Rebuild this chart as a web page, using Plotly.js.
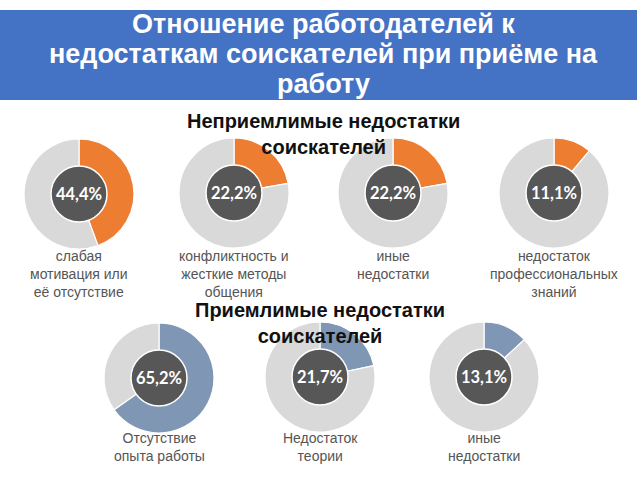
<!DOCTYPE html>
<html>
<head>
<meta charset="utf-8">
<script src="https://cdn.plot.ly/plotly-3.0.1.min.js"></script>
<style>html,body{margin:0;padding:0;background:#fff;}#chart{width:640px;height:480px;}</style>
</head>
<body>
<div id="chart"></div>
<script>
// ---- data ----
const titleLines = ["Отношение работодателей к", "недостаткам соискателей при приёме на", "работу"];
const groupTitles = ["Неприемлимые недостатки<br>соискателей", "Приемлимые недостатки<br>соискателей"];
const unacceptCategories = ["слабая<br>мотивация или<br>её отсутствие", "конфликтность и<br>жесткие методы<br>общения", "иные<br>недостатки", "недостаток<br>профессиональных<br>знаний"];
const unacceptValues = [44.4, 22.2, 22.2, 11.1];
const unacceptLabels = ["44,4%", "22,2%", "22,2%", "11,1%"];
const acceptCategories = ["Отсутствие<br>опыта работы", "Недостаток<br>теории", "иные<br>недостатки"];
const acceptValues = [65.2, 21.7, 13.1];
const acceptLabels = ["65,2%", "21,7%", "13,1%"];

// ---- layout geometry (pixels) ----
const W = 640, H = 480;
const topCenters = [[79, 194], [234, 193], [393, 193], [554, 193]];
const botCenters = [[159, 378], [320, 377], [484, 377]];
const titleLineY = [24, 54, 84];
const R = 55, RIN = 28;
const fx = p => p / W, fy = p => 1 - p / H;

const traces = [];
const annotations = [];

function addDonut(c, v, lab, cat, color, labelTop) {
  const [cx, cy] = c;
  traces.push({
    type: 'pie', values: [v, 100 - v], sort: false, direction: 'clockwise', rotation: 0,
    marker: {colors: [color, '#D9D9D9'], line: {color: '#ffffff', width: 1.2}},
    textinfo: 'none', hoverinfo: 'skip', showlegend: false,
    domain: {x: [fx(cx - R), fx(cx + R)], y: [fy(cy + R), fy(cy - R)]}
  });
  traces.push({
    type: 'pie', values: [1], sort: false,
    marker: {colors: ['#575757'], line: {color: '#ffffff', width: 1.5}},
    text: [lab], textinfo: 'text', textposition: 'inside', insidetextorientation: 'horizontal',
    textfont: {family: 'Lato, "Open Sans", sans-serif', size: 16.5, color: '#ffffff', weight: 'bold'},
    hoverinfo: 'skip', showlegend: false,
    domain: {x: [fx(cx - RIN), fx(cx + RIN)], y: [fy(cy + RIN), fy(cy - RIN)]}
  });
  annotations.push({
    xref: 'paper', yref: 'paper', x: fx(cx), y: fy(labelTop), xanchor: 'center', yanchor: 'top',
    text: cat, showarrow: false, align: 'center',
    font: {family: '"Liberation Sans", Arial, sans-serif', size: 14, color: '#555555'}
  });
}

unacceptValues.forEach((v, i) => addDonut(topCenters[i], v, unacceptLabels[i], unacceptCategories[i], '#ED7D31', 246));
acceptValues.forEach((v, i) => addDonut(botCenters[i], v, acceptLabels[i], acceptCategories[i], '#7F96B4', 428));

titleLines.forEach((t, i) => annotations.push({
  xref: 'paper', yref: 'paper', x: fx(323), y: fy(titleLineY[i]), xanchor: 'center', yanchor: 'middle',
  text: '<b>' + t + '</b>', showarrow: false, align: 'center',
  font: {family: '"Liberation Sans", Arial, sans-serif', size: 27, color: '#ffffff'}
}));

annotations.push({
  xref: 'paper', yref: 'paper', x: fx(323), y: fy(108), xanchor: 'center', yanchor: 'top',
  text: '<b>' + groupTitles[0] + '</b>', showarrow: false, align: 'center',
  font: {family: '"Liberation Sans", Arial, sans-serif', size: 20, color: '#111111'}
});
annotations.push({
  xref: 'paper', yref: 'paper', x: fx(320), y: fy(297), xanchor: 'center', yanchor: 'top',
  text: '<b>' + groupTitles[1] + '</b>', showarrow: false, align: 'center',
  font: {family: '"Liberation Sans", Arial, sans-serif', size: 20, color: '#111111'}
});

const layout = {
  width: W, height: H,
  margin: {l: 0, r: 0, t: 0, b: 0},
  paper_bgcolor: '#ffffff',
  shapes: [{
    type: 'rect', xref: 'paper', yref: 'paper', x0: 0, x1: fx(637), y0: fy(100), y1: fy(10),
    fillcolor: '#4472C4', line: {width: 0}, layer: 'below'
  }],
  annotations: annotations
};

Plotly.newPlot('chart', traces, layout, {displayModeBar: false, staticPlot: true});
</script>
</body>
</html>
